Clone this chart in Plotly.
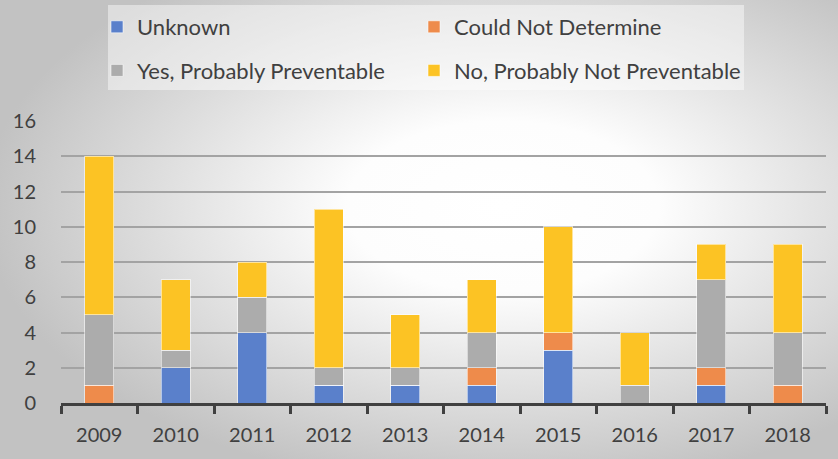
import base64
import plotly.graph_objects as go

years = ["2009", "2010", "2011", "2012", "2013", "2014", "2015", "2016", "2017", "2018"]
unknown = [0, 2, 4, 1, 1, 1, 3, 0, 1, 0]
could_not = [1, 0, 0, 0, 0, 1, 1, 0, 1, 1]
yes_prev = [4, 1, 2, 1, 1, 2, 0, 1, 5, 3]
no_prev = [9, 4, 2, 9, 3, 3, 6, 3, 2, 5]

series = [
    ("Unknown", unknown, "#5a80cb", "legend"),
    ("Could Not Determine", could_not, "#ee8b4b", "legend2"),
    ("Yes, Probably Preventable", yes_prev, "#acacac", "legend"),
    ("No, Probably Not Preventable", no_prev, "#fcc324", "legend2"),
]

W, H = 838, 459
L, R, T, B = 61, 12, 121, 56
pw, ph = W - L - R, H - T - B

fig = go.Figure()
for i, (name, vals, col, lg) in enumerate(series):
    fig.add_trace(go.Bar(
        x=years, y=vals, name=name, legend=lg, legendgroup=name,
        marker=dict(color=col, line=dict(color="rgba(255,255,255,0.55)", width=1)),
    ))

svg = f'''<svg xmlns="http://www.w3.org/2000/svg" width="{W}" height="{H}" viewBox="0 0 {W} {H}" preserveAspectRatio="none">
<defs><radialGradient id="g" cx="0.6" cy="0.45" r="0.62" gradientUnits="objectBoundingBox">
<stop offset="0" stop-color="#ffffff"/><stop offset="0.3" stop-color="#fdfdfd"/>
<stop offset="1" stop-color="#c2c2c2"/></radialGradient></defs>
<rect x="0" y="0" width="{W}" height="{H}" fill="url(#g)"/></svg>'''
src = "data:image/svg+xml;base64," + base64.b64encode(svg.encode()).decode()

fig.add_layout_image(dict(
    source=src, xref="paper", yref="paper",
    x=-L / pw, y=1 + T / ph, sizex=W / pw, sizey=H / ph,
    sizing="stretch", xanchor="left", yanchor="top", layer="below",
))

fig.add_shape(type="rect", xref="paper", yref="paper",
              x0=(108 - L) / pw, x1=(744 - L) / pw,
              y0=1 + (T - 90) / ph, y1=1 + (T - 5) / ph,
              fillcolor="rgba(255,255,255,0.45)", line=dict(width=0), layer="below")

font = "Lato, 'Open Sans', sans-serif"
legend_common = dict(
    orientation="v", bgcolor="rgba(0,0,0,0)", borderwidth=0,
    font=dict(family=font, size=22, color="#404040"),
    tracegroupgap=12, itemwidth=30, yanchor="top", xanchor="left",
)
fig.update_layout(
    width=W, height=H,
    margin=dict(l=L, r=R, t=T, b=B, pad=0, autoexpand=False),
    paper_bgcolor="#e6e6e6",
    plot_bgcolor="rgba(0,0,0,0)",
    barmode="stack", bargap=0.62,
    font=dict(family=font, color="#404040"),
    legend=dict(x=(97 - L) / pw, y=1 + (T - 6) / ph, **legend_common),
    legend2=dict(x=(414 - L) / pw, y=1 + (T - 6) / ph, **legend_common),
    xaxis=dict(
        showgrid=False, showline=True, linecolor="#404040", linewidth=3,
        ticks="outside", tickson="boundaries", ticklen=8, tickwidth=3, tickcolor="#404040",
        ticklabelstandoff=12, automargin=False,
        tickfont=dict(family=font, size=20, color="#404040"),
    ),
    yaxis=dict(
        range=[0, 16], dtick=2, showgrid=True, gridcolor="#a3a3a3", gridwidth=1.5,
        zeroline=False, showline=False, ticks="outside", ticklen=20, tickcolor="rgba(0,0,0,0)",
        automargin=False,
        tickfont=dict(family=font, size=20, color="#404040"),
    ),
)

fig.write_html("out.html")
